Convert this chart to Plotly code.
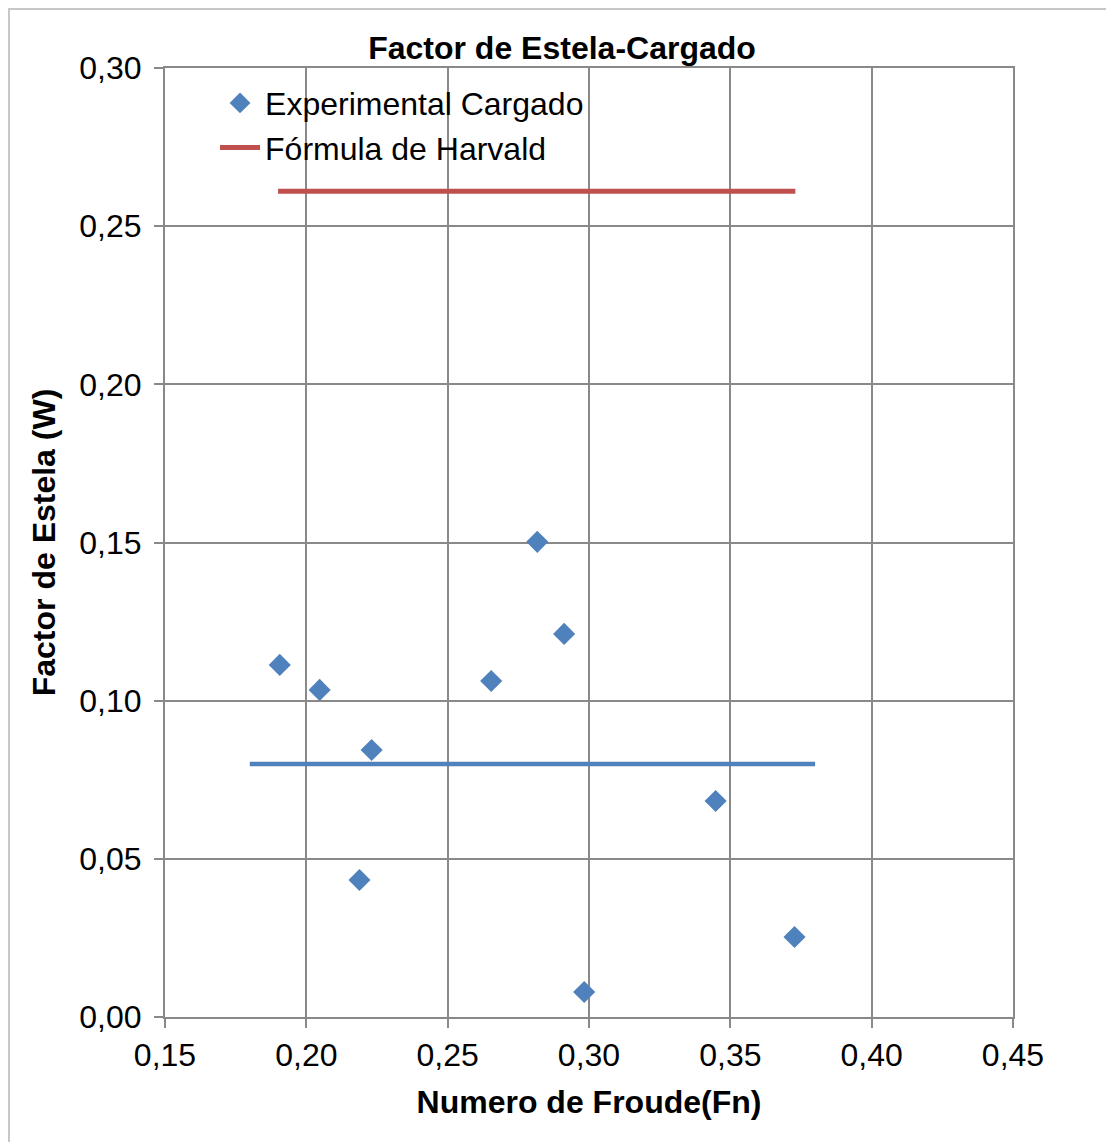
import plotly.graph_objects as go

fn_exp = [0.1906, 0.2047, 0.2231, 0.2188, 0.2654, 0.2817, 0.2912, 0.2983, 0.3448, 0.3727]
w_exp = [0.1113, 0.1034, 0.0844, 0.0433, 0.1062, 0.1502, 0.1211, 0.0079, 0.0683, 0.0253]

fn_harv = [0.190, 0.373]
w_harv = [0.261, 0.261]

fn_mean = [0.18, 0.38]
w_mean = [0.080, 0.080]

x_ticks = [0.15, 0.20, 0.25, 0.30, 0.35, 0.40, 0.45]
y_ticks = [0.00, 0.05, 0.10, 0.15, 0.20, 0.25, 0.30]

BLUE = "#4F81BD"
RED = "#C0504D"
GRID = "#898989"
FONT = "Liberation Sans, Arial, sans-serif"
FS = 32

W, H = 1106, 1134
L, T, PW, PH = 157, 60, 848, 949

fig = go.Figure()
fig.add_trace(go.Scatter(x=fn_exp, y=w_exp, mode="markers", name="Experimental Cargado",
                         marker=dict(symbol="diamond", size=17, color=BLUE)))
fig.add_trace(go.Scatter(x=fn_harv, y=w_harv, mode="lines", name="Fórmula de Harvald",
                         line=dict(color=RED, width=5)))
fig.add_trace(go.Scatter(x=fn_mean, y=w_mean, mode="lines", showlegend=False,
                         line=dict(color=BLUE, width=4.5)))

fig.update_layout(
    width=W, height=H,
    margin=dict(l=L, r=W - L - PW, t=T, b=H - T - PH),
    paper_bgcolor="white", plot_bgcolor="white",
    separators=",.",
    font=dict(family=FONT, size=FS, color="black"),
    title=dict(text="<b>Factor de Estela-Cargado</b>", x=554 / W, xanchor="center",
               y=1 - 40 / H, yanchor="middle", font=dict(size=FS)),
    legend=dict(x=0.059, y=0.992, xanchor="left", yanchor="top",
                bgcolor="rgba(0,0,0,0)", font=dict(size=FS), tracegroupgap=0,
                itemwidth=40),
    showlegend=True,
    shapes=[dict(type="rect", xref="paper", yref="paper",
                 x0=(1 - L) / PW, x1=(W - 1 - L) / PW, y0=-0.15, y1=(T + PH - 1) / PH,
                 line=dict(color="#C8C8C8", width=2), layer="below")],
)
fig.update_xaxes(range=[0.15, 0.45], tickvals=x_ticks, tickformat=".2f",
                 showgrid=True, gridcolor=GRID, gridwidth=2,
                 showline=True, linecolor=GRID, linewidth=2, mirror=True,
                 ticks="outside", ticklen=9, tickcolor=GRID, tickwidth=2,
                 zeroline=False, tickfont=dict(size=FS),
                 title=dict(text="<b>Numero de Froude(Fn)</b>", font=dict(size=FS), standoff=18))
fig.update_yaxes(range=[0, 0.30], tickvals=y_ticks, tickformat=".2f",
                 showgrid=True, gridcolor=GRID, gridwidth=2,
                 showline=True, linecolor=GRID, linewidth=2, mirror=True,
                 ticks="outside", ticklen=9, tickcolor=GRID, tickwidth=2,
                 ticklabelstandoff=6,
                 zeroline=False, tickfont=dict(size=FS),
                 title=dict(text="<b>Factor de Estela (W)</b>", font=dict(size=FS), standoff=14))

fig.write_html("out.html")
